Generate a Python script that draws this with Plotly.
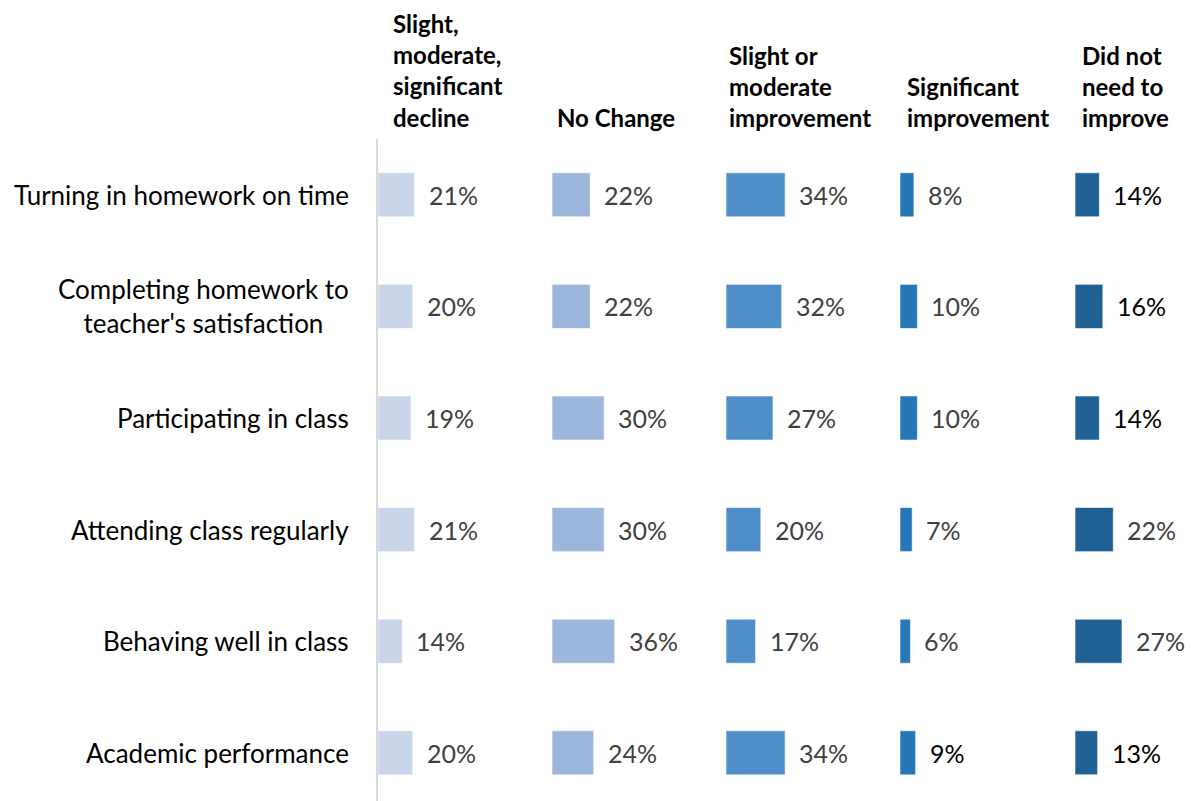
import plotly.graph_objects as go
from plotly.subplots import make_subplots

categories = [
    "Turning in homework on time",
    "Completing homework to<br>teacher's satisfaction",
    "Participating in class",
    "Attending class regularly",
    "Behaving well in class",
    "Academic performance",
]
headers = [
    "Slight,<br>moderate,<br>significant<br>decline",
    "No Change",
    "Slight or<br>moderate<br>improvement",
    "Significant<br>improvement",
    "Did not<br>need to<br>improve",
]
decline = [21, 20, 19, 21, 14, 20]
no_change = [22, 22, 30, 30, 36, 24]
slight_moderate = [34, 32, 27, 20, 17, 34]
significant = [8, 10, 10, 7, 6, 9]
did_not_need = [14, 16, 14, 22, 27, 13]
series = [decline, no_change, slight_moderate, significant, did_not_need]

colors = ["#C9D5E9", "#9DB7DC", "#4E8FCA", "#2577B5", "#1F6194"]
GRAY = "#404040"
BLACK = "#000000"
label_colors = [
    [GRAY] * 6,
    [GRAY] * 6,
    [GRAY] * 6,
    [GRAY, GRAY, GRAY, GRAY, GRAY, BLACK],
    [BLACK, BLACK, BLACK, GRAY, GRAY, BLACK],
]

W, H = 1196, 801
FONT = "Lato"
panel_left = [378, 552, 726, 900, 1075]
panel_w = 174
px_per_unit = 1.74
header_x = [391, 555, 727, 905, 1080]
plot_top = 139
row_h = 111.6

fig = make_subplots(rows=1, cols=5, shared_yaxes=True)
ypos = list(range(len(categories)))

for i, vals in enumerate(series):
    fig.add_trace(
        go.Bar(
            x=vals, y=ypos, orientation="h",
            marker=dict(color=colors[i], line=dict(color="rgba(255,255,255,0.6)", width=1)),
            width=0.395, showlegend=False, hoverinfo="x+y",
        ),
        row=1, col=i + 1,
    )
    ax = "" if i == 0 else str(i + 1)
    for j, v in enumerate(vals):
        fig.add_annotation(
            x=v, y=ypos[j], xref="x" + ax, yref="y",
            text=f"{v}%", showarrow=False, xanchor="left", yanchor="middle",
            xshift=12, font=dict(family=FONT, size=25, color=label_colors[i][j]),
        )
    w = min(panel_w, W - panel_left[i])
    fig.update_xaxes(
        row=1, col=i + 1, range=[0, w / px_per_unit],
        domain=[panel_left[i] / W, (panel_left[i] + w) / W],
        showgrid=False, zeroline=False, showticklabels=False, showline=False,
    )
    fig.add_annotation(
        x=header_x[i] / W, y=1 - 134 / H, xref="paper", yref="paper",
        text="<b>" + headers[i] + "</b>", showarrow=False, align="left",
        xanchor="left", yanchor="bottom",
        font=dict(family=FONT, size=24, color="#000000"),
    )

ybottom = -0.5 + (H - plot_top) / row_h
fig.update_yaxes(
    range=[ybottom, -0.5], domain=[0, 1 - plot_top / H],
    showgrid=False, zeroline=False, showticklabels=False,
)
fig.update_yaxes(row=1, col=1, showline=True, linecolor="#D9D9D9", linewidth=2)

for j, c in enumerate(categories):
    fig.add_annotation(
        x=351 / W, y=ypos[j], xref="paper", yref="y",
        text=c, showarrow=False, xanchor="right", yanchor="middle", align="center",
        font=dict(family=FONT, size=26, color="#000000"),
    )

fig.update_layout(
    width=W, height=H, margin=dict(l=0, r=0, t=0, b=0),
    plot_bgcolor="white", paper_bgcolor="white", bargap=0.6,
    font=dict(family=FONT),
)
fig.write_html(
    "out.html",
    config={"displayModeBar": False},
    post_script="document.body.style.margin='0';document.body.style.overflow='hidden';",
)
